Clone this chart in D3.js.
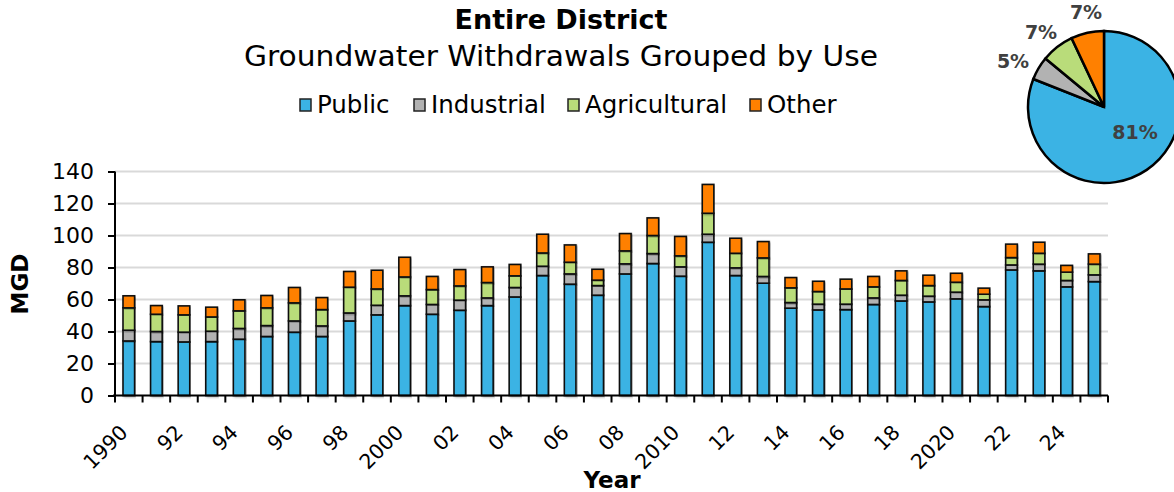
<!DOCTYPE html>
<html>
<head>
<meta charset="utf-8">
<script src="https://cdn.jsdelivr.net/npm/d3@7"></script>
<style>
  body { margin: 0; background: #fff; }
  text { font-family: "DejaVu Sans", sans-serif; }
</style>
</head>
<body>
<svg id="chart" width="1174" height="492"></svg>
<script>
// data
const years = d3.range(1990, 2026);
const publicUse = [34.1,33.7,33.5,33.7,35.2,36.9,39.6,36.9,46.6,50.4,56.2,50.8,53.3,56.2,61.6,75,69.6,62.7,76,82.5,74.6,95.8,75,70.2,54.6,53.5,53.7,56.9,59.1,58.5,60.4,55.6,78.5,77.9,67.9,71.2];
const industrial = [6.7,6.3,6.1,6.5,6.7,6.8,7.0,6.6,5.0,6.0,6.1,6.1,6.3,4.8,5.9,5.8,6.4,6.0,6.3,6.2,5.8,5.0,4.8,4.2,3.5,3.6,3.4,4.1,3.6,3.6,4.2,4.2,3.1,4.2,4.0,4.2];
const agricultural = [14.0,10.8,10.8,8.9,11.0,11.1,11.3,10.2,16.1,10.2,11.8,9.3,8.9,9.6,7.3,8.3,7.3,3.4,8.1,11.3,6.9,13.1,9.1,11.6,9.2,7.9,9.5,6.9,9.2,6.6,6.2,3.5,4.6,6.8,5.2,6.7];
const other = [7.5,5.4,5.6,6.1,6.9,7.7,9.6,7.5,9.8,11.7,12.3,8.2,10.2,9.8,7.1,11.7,10.8,6.8,10.8,11.0,12.1,18.0,9.4,10.2,6.4,6.4,6.1,6.5,6.0,6.5,5.6,3.8,8.4,6.9,4.2,6.4];
const categories = ["Public", "Industrial", "Agricultural", "Other"];
const pieShares = [81, 5, 7, 7];
const yTicks = [0, 20, 40, 60, 80, 100, 120, 140];
const xTickLabels = ["1990","","92","","94","","96","","98","","2000","","02","","04","","06","","08","","2010","","12","","14","","16","","18","","2020","","22","","24",""];

const colors = ["#3bb3e4", "#b2b2b2", "#b9dc7a", "#ff8000"];

const svg = d3.select("#chart");

// table for the stack
const table = years.map((y, i) => ({
  year: y,
  Public: publicUse[i],
  Industrial: industrial[i],
  Agricultural: agricultural[i],
  Other: other[i]
}));
const series = d3.stack().keys(categories)(table);

// scales
const x = d3.scaleBand().domain(years).range([115, 1108]).paddingInner(0.58).paddingOuter(0.29);
const y = d3.scaleLinear().domain([0, 140]).range([395.5, 171.5]);

// light shadow under bars
const defs = svg.append("defs");
defs.append("filter").attr("id", "shadow")
  .append("feDropShadow")
  .attr("dx", 1.5).attr("dy", 1).attr("stdDeviation", 1)
  .attr("flood-color", "#000").attr("flood-opacity", 0.35);

// gridlines
svg.append("g")
  .selectAll("line")
  .data(yTicks.slice(1))
  .join("line")
  .attr("x1", 115).attr("x2", 1108)
  .attr("y1", d => y(d)).attr("y2", d => y(d))
  .attr("stroke", "#d9d9d9").attr("stroke-width", 2);

// bars
svg.append("g")
  .selectAll("g")
  .data(series)
  .join("g")
  .attr("fill", (d, i) => colors[i])
  .selectAll("rect")
  .data(d => d)
  .join("rect")
  .attr("x", d => x(d.data.year))
  .attr("y", d => y(d[1]))
  .attr("width", x.bandwidth())
  .attr("height", d => y(d[0]) - y(d[1]))
  .attr("stroke", "#111").attr("stroke-width", 1.6)
  .attr("filter", "url(#shadow)");

// y axis
const yAxis = svg.append("g")
  .attr("transform", "translate(115,0)")
  .call(d3.axisLeft(y).tickValues(yTicks).tickSize(7).tickPadding(14));
yAxis.select(".domain").attr("stroke", "#000").attr("stroke-width", 2).attr("d", "M0," + y(140) + "V" + y(0));
yAxis.selectAll(".tick line").attr("stroke", "#000").attr("stroke-width", 2);
yAxis.selectAll("text").attr("font-size", 22).attr("fill", "#000")
  .style("font-family", "'DejaVu Sans', sans-serif");

// x axis: line, ticks between bars, rotated labels
const step = x.step();
const xAxis = svg.append("g");
xAxis.append("line")
  .attr("x1", 113).attr("x2", 1108)
  .attr("y1", y(0)).attr("y2", y(0))
  .attr("stroke", "#000").attr("stroke-width", 2);
xAxis.selectAll(".xt")
  .data(years.concat([2026]))
  .join("line")
  .attr("class", "xt")
  .attr("x1", d => 115 + (d - 1990) * step)
  .attr("x2", d => 115 + (d - 1990) * step)
  .attr("y1", y(0)).attr("y2", y(0) + 7)
  .attr("stroke", "#000").attr("stroke-width", 2);
xAxis.selectAll(".xl")
  .data(years)
  .join("text")
  .attr("class", "xl")
  .attr("text-anchor", "end")
  .attr("font-size", 20.5)
  .attr("transform", d => `translate(${x(d) + x.bandwidth() / 2 - 10},${y(0) + 28}) rotate(-45)`)
  .attr("dy", "0.7em")
  .text((d, i) => xTickLabels[i]);

// axis titles
svg.append("text")
  .attr("transform", "translate(28,284) rotate(-90)")
  .attr("text-anchor", "middle")
  .attr("font-size", 23).attr("font-weight", "bold")
  .text("MGD");
svg.append("text")
  .attr("x", 612).attr("y", 488)
  .attr("text-anchor", "middle")
  .attr("font-size", 23).attr("font-weight", "bold")
  .text("Year");

// titles
svg.append("text")
  .attr("x", 561).attr("y", 29)
  .attr("text-anchor", "middle")
  .attr("font-size", 27).attr("font-weight", "bold")
  .text("Entire District");
svg.append("text")
  .attr("x", 561).attr("y", 66)
  .attr("text-anchor", "middle")
  .attr("font-size", 28)
  .attr("textLength", 634).attr("lengthAdjust", "spacingAndGlyphs")
  .text("Groundwater Withdrawals Grouped by Use");

// legend
const legendX = [300, 414, 568, 750];
const legend = svg.append("g")
  .selectAll("g")
  .data(categories)
  .join("g")
  .attr("transform", (d, i) => `translate(${legendX[i]},99)`);
legend.append("rect")
  .attr("width", 11).attr("height", 12)
  .attr("fill", (d, i) => colors[i])
  .attr("stroke", "#222").attr("stroke-width", 1.5);
legend.append("text")
  .attr("x", 17).attr("y", 14)
  .attr("font-size", 24.5)
  .text(d => d);

// pie
const pie = d3.pie().sort(null)(pieShares);
const arc = d3.arc().innerRadius(0).outerRadius(76);
const pieG = svg.append("g").attr("transform", "translate(1104,107)");
pieG.selectAll("path")
  .data(pie)
  .join("path")
  .attr("d", arc)
  .attr("fill", (d, i) => colors[i])
  .attr("stroke", "#000").attr("stroke-width", 2.5);

// pie labels
const labelPos = [[31, 25], [-91, -46], [-63, -75], [-18, -95]];
pieG.selectAll(".pl")
  .data(pie)
  .join("text")
  .attr("class", "pl")
  .attr("x", (d, i) => labelPos[i][0])
  .attr("y", (d, i) => labelPos[i][1])
  .attr("text-anchor", "middle")
  .attr("dy", "0.35em")
  .attr("font-size", 19).attr("font-weight", "bold")
  .attr("fill", "#404040")
  .text(d => d.data + "%");
</script>
</body>
</html>
